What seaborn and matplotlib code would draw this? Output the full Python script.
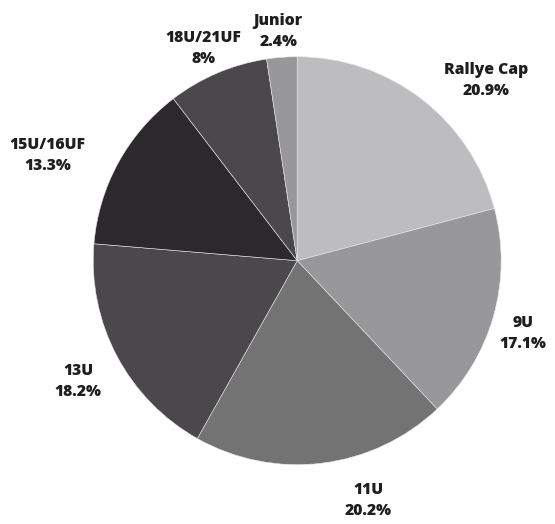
import matplotlib
matplotlib.use("Agg")
import matplotlib.pyplot as plt
import seaborn as sns

# Data
categories = ["Rallye Cap", "9U", "11U", "13U", "15U/16UF", "18U/21UF", "Junior"]
shares = [20.9, 17.1, 20.2, 18.2, 13.3, 8.0, 2.4]
share_labels = ["20.9%", "17.1%", "20.2%", "18.2%", "13.3%", "8%", "2.4%"]
colors = ["#bdbdbf", "#98989a", "#737374", "#4a484b", "#2b292c", "#4a484b", "#98989a"]

# label placement (in pie radius units)
label_pos = [(0.926, 0.882), (1.108, -0.358), (0.348, -1.176), (-1.074, -0.593),
             (-1.223, 0.515), (-0.461, 1.039), (-0.093, 1.123)]


def main():
    sns.set_theme(style="white")
    plt.rcParams["font.family"] = ["Open Sans", "DejaVu Sans"]

    fig = plt.figure(figsize=(5.55, 5.24), dpi=100)
    ax = fig.add_axes([0.168, 0.113, 0.735, 0.779])

    ax.pie(shares, colors=colors, startangle=90, counterclock=False,
           radius=1.0, wedgeprops=dict(linewidth=0.4, edgecolor="#e8e8e8"))
    ax.set_xlim(-1, 1)
    ax.set_ylim(-1, 1)
    ax.set_aspect("equal")
    ax.axis("off")

    for name, pct, (x, y) in zip(categories, share_labels, label_pos):
        ax.text(x, y, f"{name}\n{pct}", ha="center", va="center",
                fontsize=11.3, fontweight=800, color="#1e1e1e",
                linespacing=1.42, clip_on=False)

    fig.savefig("out.png", dpi=100, facecolor="white")


if __name__ == "__main__":
    main()
